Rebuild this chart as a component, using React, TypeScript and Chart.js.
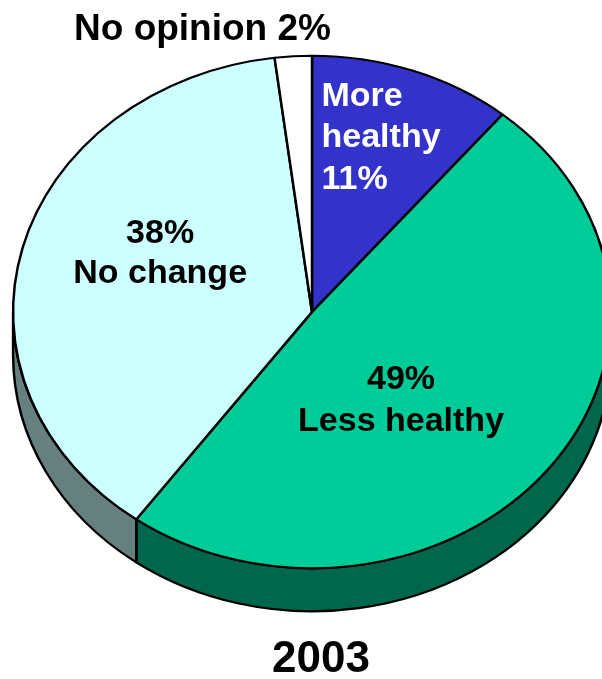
import React, { useEffect, useRef } from 'react';
import { Chart, registerables } from 'chart.js';

Chart.register(...registerables);

// ---- data ----
const categories = ['More healthy', 'Less healthy', 'No change', 'No opinion'];
const values = [11, 49, 38, 2];
const topColors = ['#3333CC', '#00CC99', '#CCFFFF', '#FFFFFF'];
const sideColors = ['#1A1A66', '#00664C', '#668080', '#808080'];
const labelTemplates = ['More\nhealthy\n{v}%', '{v}%\nLess healthy', '{v}%\nNo change', 'No opinion {v}%'];
const labelColors = ['#FFFFFF', '#000000', '#000000', '#000000'];
const titleText = '2003';

// ---- style ----
const FONT = "'Liberation Sans', Arial, Helvetica, sans-serif";
const STRETCH_X = 1.035;
const TILT = 0.8875;
const DEPTH = 43;
const LINE_W = 2.4;

const labelPlacement = [
  { angle: 18.5, frac: 0.728, align: 'left', size: 34, lh: 41.5 },
  { angle: 138.2, frac: 0.447, align: 'center', size: 34, lh: 42 },
  { angle: 295.1, frac: 0.561, align: 'center', size: 34, lh: 40 },
  { angle: 341.8, frac: 1.173, align: 'center', size: 37, lh: 40 },
];

function pieGeom(chart: any) {
  const arc = chart.getDatasetMeta(0).data[0];
  const p = arc.getProps(['x', 'y', 'outerRadius'], true);
  return { cx: p.x as number, cy: p.y as number, r: p.outerRadius as number };
}

const pie3d = {
  id: 'pie3d',
  beforeDatasetsDraw(chart: any) {
    const ctx = chart.ctx as CanvasRenderingContext2D;
    const { cx, cy, r } = pieGeom(chart);
    ctx.save();
    ctx.translate(cx, cy);
    ctx.scale(STRETCH_X, TILT);
    ctx.translate(-cx, -cy);
    const d = DEPTH / TILT;
    const arcs = chart.getDatasetMeta(0).data;
    arcs.forEach((el: any, i: number) => {
      const { startAngle, endAngle } = el.getProps(['startAngle', 'endAngle'], true);
      for (let k = -1; k <= 1; k++) {
        const lo = Math.max(startAngle, 2 * Math.PI * k);
        const hi = Math.min(endAngle, Math.PI + 2 * Math.PI * k);
        if (hi > lo) {
          ctx.beginPath();
          ctx.arc(cx, cy, r, lo, hi, false);
          ctx.arc(cx, cy + d, r, hi, lo, true);
          ctx.closePath();
          ctx.fillStyle = sideColors[i];
          ctx.fill();
          ctx.lineWidth = LINE_W;
          ctx.strokeStyle = '#000';
          ctx.lineJoin = 'round';
          ctx.stroke();
        }
      }
    });
  },
  afterDatasetsDraw(chart: any) {
    chart.ctx.restore();
  },
  afterDraw(chart: any) {
    const ctx = chart.ctx as CanvasRenderingContext2D;
    const { cx, cy, r } = pieGeom(chart);
    const rx = r * STRETCH_X;
    const ry = r * TILT;
    values.forEach((v, i) => {
      const pl = labelPlacement[i];
      const lines = labelTemplates[i].replace('{v}', String(v)).split('\n');
      const a = (pl.angle * Math.PI) / 180;
      const bx = cx + rx * pl.frac * Math.sin(a);
      const by = cy - ry * pl.frac * Math.cos(a);
      ctx.save();
      ctx.font = `bold ${pl.size}px ${FONT}`;
      ctx.fillStyle = labelColors[i];
      ctx.textBaseline = 'alphabetic';
      const maxW = Math.max(...lines.map((l) => ctx.measureText(l).width));
      const cap = pl.size * 0.716;
      const firstBase = by + cap / 2 - ((lines.length - 1) * pl.lh) / 2;
      lines.forEach((l, j) => {
        let x = bx;
        if (pl.align === 'left') {
          ctx.textAlign = 'left';
          x = bx - maxW / 2;
        } else {
          ctx.textAlign = 'center';
        }
        ctx.fillText(l, x, firstBase + j * pl.lh);
      });
      ctx.restore();
    });
    // year title below the pie
    ctx.save();
    ctx.font = `bold 44px ${FONT}`;
    ctx.fillStyle = '#000';
    ctx.textAlign = 'center';
    ctx.textBaseline = 'alphabetic';
    ctx.fillText(titleText, cx + 9, cy + ry + DEPTH + 61);
    ctx.restore();
  },
};

export default function App() {
  const ref = useRef<HTMLCanvasElement>(null);
  useEffect(() => {
    const chart = new Chart(ref.current as HTMLCanvasElement, {
      type: 'pie',
      data: {
        labels: categories,
        datasets: [
          {
            data: values,
            backgroundColor: topColors,
            borderColor: '#000000',
            borderWidth: LINE_W,
            clip: false as any,
          },
        ],
      },
      options: {
        responsive: false,
        maintainAspectRatio: false,
        animation: false,
        devicePixelRatio: 1,
        events: [],
        layout: { padding: { left: 22, right: 0, top: 22, bottom: 77 } },
        plugins: {
          legend: { display: false },
          tooltip: { enabled: false },
          title: { display: false },
        },
      },
      plugins: [pie3d as any],
    });
    return () => chart.destroy();
  }, []);
  return (
    <div style={{ position: 'absolute', left: 0, top: 0, width: 602, height: 679, background: '#fff' }}>
      <canvas ref={ref} width={602} height={679} style={{ display: 'block' }} />
    </div>
  );
}
